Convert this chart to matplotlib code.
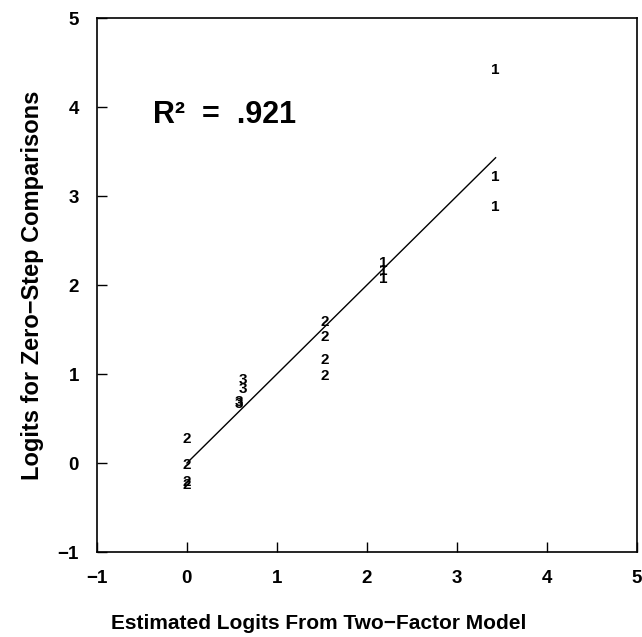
import matplotlib
matplotlib.use("Agg")
import matplotlib.pyplot as plt

plt.rcParams['font.family'] = ['Liberation Sans', 'DejaVu Sans']
plt.rcParams['font.weight'] = 'bold'

# points plotted as their group digit
x_1 = [2.18, 2.18, 2.18, 3.43, 3.43, 3.43]
y_1 = [2.25, 2.16, 2.07, 4.42, 3.21, 2.88]
x_2 = [0.0, 0.0, 0.0, 0.0, 1.53, 1.53, 1.53, 1.53]
y_2 = [0.27, -0.02, -0.21, -0.25, 1.58, 1.42, 1.16, 0.98]
x_3 = [0.62, 0.62, 0.58, 0.58]
y_3 = [0.93, 0.83, 0.69, 0.66]

line_x = [0.0, 3.43]
line_y = [0.0, 3.43]

ticks = [-1, 0, 1, 2, 3, 4, 5]
r2_text = "R\u00b2  =  .921"

fig = plt.figure(figsize=(6.42, 6.37), dpi=100)
ax = fig.add_axes([0.151, 0.1334, 0.841, 0.8383])

ax.plot(line_x, line_y, color='black', lw=1.0)

for xs, ys, lab in [(x_1, y_1, '1'), (x_2, y_2, '2'), (x_3, y_3, '3')]:
    for xv, yv in zip(xs, ys):
        ax.text(xv, yv, lab, ha='center', va='center', fontsize=11,
                fontweight='bold', color='black')

ax.text(-0.38, 3.91, r2_text, ha='left', va='center', fontsize=22,
        fontweight='bold')

ax.set_xlim(-1, 5)
ax.set_ylim(-1, 5)
ax.set_xticks(ticks)
ax.set_yticks(ticks)
ax.set_xticklabels([str(t).replace('-', '\u2212') for t in ticks])
ax.set_yticklabels([str(t).replace('-', '\u2212') for t in ticks])
ax.tick_params(direction='in', length=7, width=1, labelsize=13.5, pad=13,
               top=False, right=False)
for lbl in ax.get_xticklabels() + ax.get_yticklabels():
    lbl.set_fontweight('bold')
for sp in ax.spines.values():
    sp.set_linewidth(1.2)

ax.set_xlabel("Estimated Logits From Two\u2212Factor Model", fontsize=15,
              fontweight='bold')
ax.set_ylabel("Logits for Zero\u2212Step Comparisons", fontsize=17,
              fontweight='bold')
ax.xaxis.set_label_coords(0.41, -0.116)
ax.yaxis.set_label_coords(-0.098, 0.5)

fig.savefig("out.png", dpi=100)
